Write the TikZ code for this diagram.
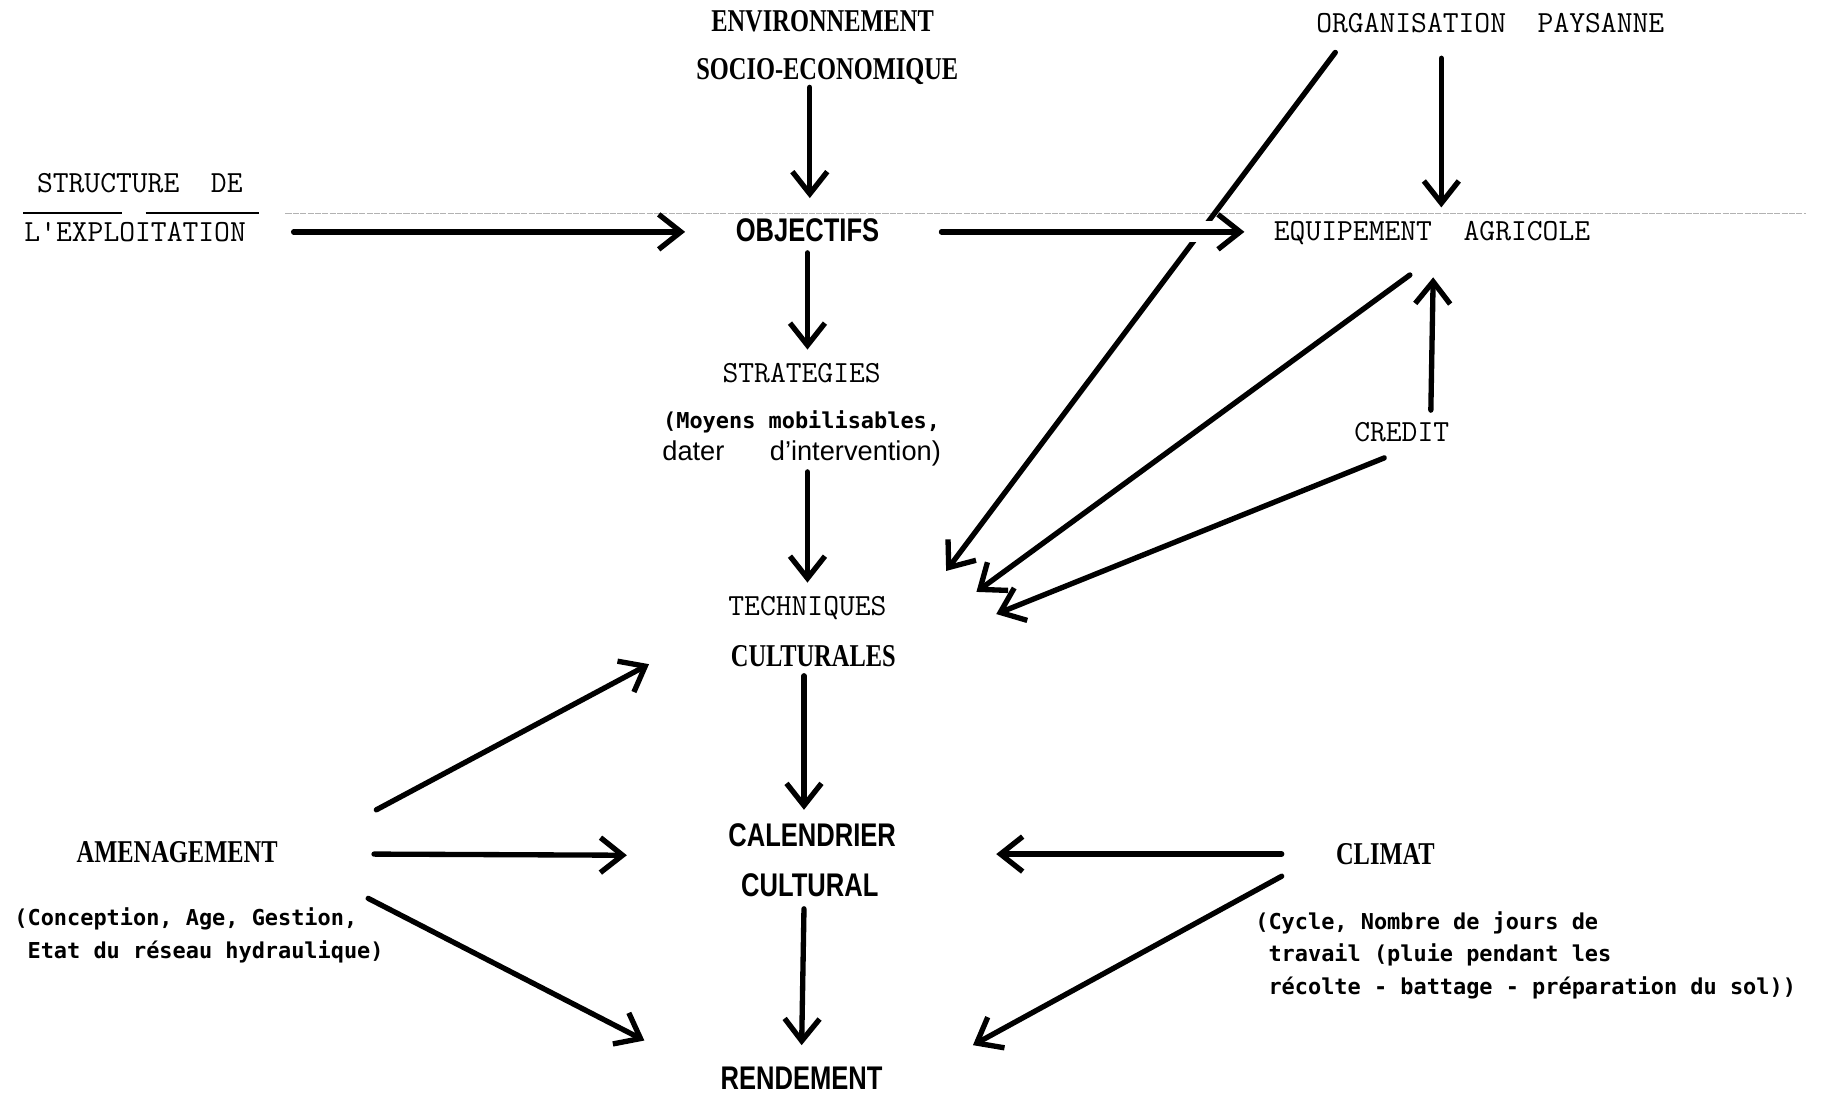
\documentclass[tikz,border=0pt]{standalone}
\usepackage{fontspec}
\usetikzlibrary{arrows.meta,calc}
\newfontfamily\boldserif[FakeStretch=0.77]{Liberation Serif}
\newfontfamily\condsans[FakeStretch=0.78]{Liberation Sans}
\newfontfamily\notefont{DejaVu Sans Mono}
\newfontfamily\plainsans{Liberation Sans}
\begin{document}
\begin{tikzpicture}[x=0.02cm,y=-0.02cm,
    arr/.style={-{Straight Barb[length=3.8mm,width=6mm]},line width=2.6pt,line cap=round},
    halo/.style={preaction={draw=white,line width=3.6mm,line cap=butt,-}},
    scanline/.style={draw=black!30,line width=0.4pt,dash pattern=on 3pt off 0.6pt}]
    \useasboundingbox (0,0) rectangle (1568,939);
    \begin{scope}[every node/.style={inner sep=0pt,font=\fontsize{15}{18}\selectfont\ttfamily}]
        \node (struct) at (120,157) {STRUCTURE~~DE};
        \node (expl) at (116,199) {L'EXPLOITATION};
        \node (org) at (1279,20) {ORGANISATION~~PAYSANNE};
        \node (equip) at (1229,200) {EQUIPEMENT~~AGRICOLE};
        \node (strat) at (688,320) {STRATEGIES};
        \node (tech) at (693,522) {TECHNIQUES};
        \node (credit) at (1203,371) {CREDIT};
    \end{scope}
    \begin{scope}[every node/.style={inner sep=0pt,font=\fontsize{15.5}{18}\selectfont\boldserif\bfseries}]
        \node (env) at (706,18) {ENVIRONNEMENT};
        \node (socio) at (710,61) {SOCIO-ECONOMIQUE};
        \node (cultu) at (698,563) {CULTURALES};
        \node (amen) at (152,731) {AMENAGEMENT};
        \node (climat) at (1189,733) {CLIMAT};
    \end{scope}
    \begin{scope}[every node/.style={inner sep=0pt,font=\fontsize{16}{19}\selectfont\condsans\bfseries}]
        \node (obj) at (693,198) {OBJECTIFS};
        \node (cal) at (697,717) {CALENDRIER};
        \node (cultural) at (695,760) {CULTURAL};
        \node (rend) at (688,925) {RENDEMENT};
    \end{scope}
    \begin{scope}[every node/.style={inner sep=0pt,align=left,font=\fontsize{10.7}{15.9}\selectfont\notefont\bfseries}]
        \node (moyens) at (688,362) {(Moyens mobilisables,};
        \node[anchor=north west] (amennote) at (12,779) {(Conception, Age, Gestion,\\~Etat du réseau hydraulique)};
        \node[anchor=north west] (climnote) at (1077,782) {(Cycle, Nombre de jours de\\~travail (pluie pendant les\\~récolte - battage - préparation du sol))};
    \end{scope}
    \node[inner sep=0pt,font=\fontsize{13.3}{16}\selectfont\plainsans] (dater) at (688,389) {dater\hspace{7.8mm}d’intervention)};

    \draw[scanline] (245,183) -- (1550,183);
    \draw[line width=0.9pt] (20,183) -- (105,183);
    \draw[line width=0.9pt] (125,183) -- (222,183);

    \draw[arr] ($(socio)+(-15,14)$) -- ($(obj)+(2,-28)$);
    \draw[arr] ($(expl)+(136,0)$) -- ($(obj)+(-105,1)$);
    \draw[arr] ($(org)+(-42,30)$) -- ($(equip)+(8,-22)$);
    \draw[arr] ($(org)+(-133,25)$) -- ($(tech)+(119,-32)$);
    \draw[arr,halo] ($(obj)+(115,1)$) -- ($(equip)+(-161,-1)$);
    \draw[arr] ($(obj)+(0,19)$) -- ($(strat)+(5,-20)$);
    \draw[arr] ($(dater)+(5,16)$) -- ($(tech)+(0,-22)$);
    \draw[arr] ($(equip)+(-19,36)$) -- ($(tech)+(145,-14)$);
    \draw[arr] ($(credit)+(25,-19)$) -- ($(equip)+(1,38)$);
    \draw[arr] ($(credit)+(-15,22)$) -- ($(tech)+(162,5)$);
    \draw[arr] ($(cultu)+(-8,17)$) -- ($(cal)+(-7,-22)$);
    \draw[arr] ($(cultural)+(-5,20)$) -- ($(rend)+(0,-28)$);
    \draw[arr] ($(amen)+(171,-36)$) -- ($(cultu)+(-141,7)$);
    \draw[arr] ($(amen)+(169,2)$) -- ($(cal)+(-159,17)$);
    \draw[arr] ($(amen)+(164,40)$) -- ($(rend)+(-135,-32)$);
    \draw[arr] ($(climat)+(-89,0)$) -- ($(cal)+(158,16)$);
    \draw[arr] ($(climat)+(-89,19)$) -- ($(rend)+(147,-28)$);
\end{tikzpicture}
\end{document}
